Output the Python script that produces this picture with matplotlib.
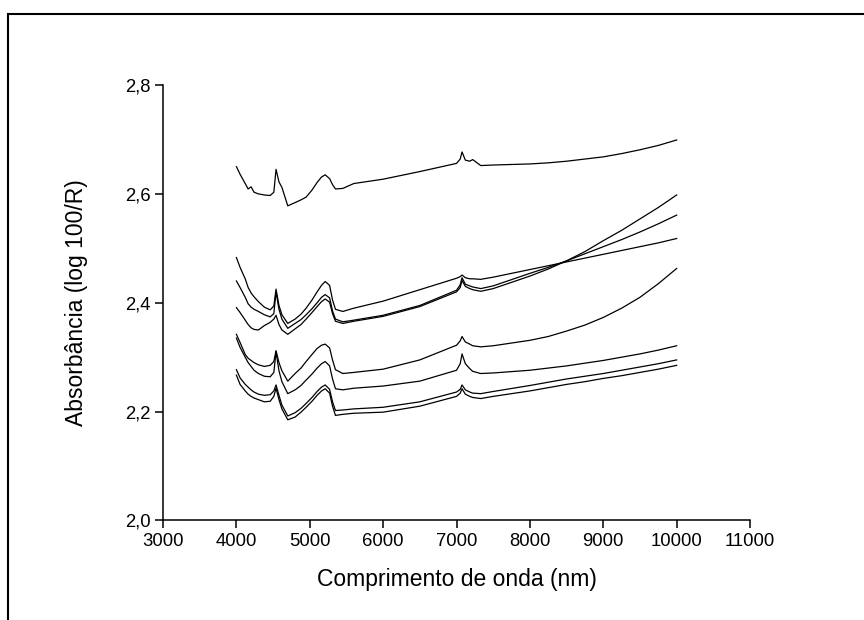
import matplotlib
matplotlib.use("Agg")
import matplotlib.pyplot as plt
from matplotlib.patches import Rectangle
from matplotlib.ticker import FuncFormatter

plt.rcParams["font.family"] = ["Liberation Sans", "DejaVu Sans"]

# comprimento de onda (nm), grade comum a todos os espectros
wavelength = [4000, 4050, 4120, 4160, 4200, 4240, 4300, 4380, 4460, 4510,
              4540, 4580, 4620, 4700, 4800, 4880, 4950, 5030, 5100, 5160,
              5210, 5270, 5310, 5350, 5450, 5600, 6000, 6500, 7000, 7050,
              7075, 7120, 7180, 7220, 7330, 7500, 8000, 8250, 8500, 8750,
              9000, 9250, 9500, 9750, 10000]

# absorbância (log 100/R) de cada amostra
spec_1 = [2.650, 2.636, 2.619, 2.609, 2.613, 2.603, 2.600, 2.598, 2.597, 2.603,
          2.645, 2.622, 2.612, 2.578, 2.584, 2.589, 2.594, 2.607, 2.621, 2.631,
          2.635, 2.628, 2.617, 2.609, 2.610, 2.619, 2.627, 2.641, 2.656, 2.664,
          2.677, 2.662, 2.660, 2.663, 2.652, 2.653, 2.655, 2.657, 2.660, 2.664,
          2.668, 2.674, 2.681, 2.689, 2.699]
spec_2 = [2.483, 2.465, 2.444, 2.428, 2.418, 2.411, 2.402, 2.392, 2.387, 2.394,
          2.425, 2.395, 2.378, 2.362, 2.370, 2.379, 2.390, 2.405, 2.420, 2.432,
          2.439, 2.432, 2.405, 2.388, 2.384, 2.390, 2.403, 2.424, 2.445, 2.448,
          2.451, 2.446, 2.444, 2.444, 2.443, 2.447, 2.461, 2.468, 2.475, 2.482,
          2.489, 2.496, 2.503, 2.510, 2.518]
spec_3 = [2.440, 2.428, 2.410, 2.398, 2.392, 2.388, 2.384, 2.378, 2.374, 2.380,
          2.420, 2.388, 2.370, 2.353, 2.362, 2.369, 2.378, 2.389, 2.400, 2.410,
          2.415, 2.409, 2.385, 2.370, 2.365, 2.368, 2.377, 2.395, 2.423, 2.433,
          2.446, 2.434, 2.431, 2.429, 2.426, 2.431, 2.454, 2.465, 2.477, 2.490,
          2.503, 2.516, 2.530, 2.545, 2.561]
spec_4 = [2.391, 2.382, 2.368, 2.360, 2.354, 2.351, 2.350, 2.358, 2.364, 2.370,
          2.377, 2.360, 2.350, 2.342, 2.352, 2.360, 2.370, 2.382, 2.393, 2.402,
          2.407, 2.401, 2.380, 2.366, 2.362, 2.366, 2.375, 2.393, 2.420, 2.428,
          2.441, 2.430, 2.426, 2.424, 2.421, 2.426, 2.449, 2.462, 2.477, 2.494,
          2.514, 2.533, 2.554, 2.575, 2.598]
spec_5 = [2.342, 2.327, 2.305, 2.298, 2.294, 2.290, 2.286, 2.283, 2.285, 2.292,
          2.312, 2.290, 2.275, 2.256, 2.270, 2.280, 2.292, 2.305, 2.316, 2.322,
          2.324, 2.317, 2.295, 2.277, 2.270, 2.272, 2.278, 2.295, 2.322, 2.330,
          2.338, 2.328, 2.324, 2.321, 2.319, 2.321, 2.331, 2.338, 2.348, 2.359,
          2.373, 2.390, 2.410, 2.435, 2.463]
spec_6 = [2.335, 2.318, 2.300, 2.290, 2.283, 2.276, 2.270, 2.265, 2.264, 2.272,
          2.310, 2.275, 2.255, 2.233, 2.240, 2.248, 2.258, 2.269, 2.280, 2.288,
          2.292, 2.284, 2.260, 2.242, 2.240, 2.243, 2.247, 2.256, 2.276, 2.288,
          2.306, 2.288, 2.279, 2.274, 2.270, 2.271, 2.276, 2.280, 2.284, 2.289,
          2.294, 2.300, 2.306, 2.313, 2.321]
spec_7 = [2.277, 2.262, 2.250, 2.245, 2.240, 2.236, 2.232, 2.230, 2.231, 2.238,
          2.249, 2.230, 2.212, 2.192, 2.198, 2.206, 2.215, 2.226, 2.237, 2.245,
          2.249, 2.241, 2.218, 2.202, 2.203, 2.205, 2.208, 2.218, 2.236, 2.241,
          2.249, 2.240, 2.236, 2.234, 2.233, 2.237, 2.248, 2.254, 2.260, 2.265,
          2.270, 2.276, 2.282, 2.288, 2.295]
spec_8 = [2.267, 2.250, 2.238, 2.232, 2.228, 2.225, 2.222, 2.218, 2.219, 2.228,
          2.243, 2.222, 2.205, 2.185, 2.190, 2.199, 2.208, 2.219, 2.230, 2.238,
          2.242, 2.234, 2.210, 2.193, 2.195, 2.197, 2.199, 2.210, 2.228, 2.234,
          2.242, 2.232, 2.228, 2.226, 2.224, 2.228, 2.238, 2.244, 2.250, 2.255,
          2.261, 2.266, 2.272, 2.278, 2.285]

spectra = [spec_1, spec_2, spec_3, spec_4, spec_5, spec_6, spec_7, spec_8]

x_ticks = list(range(3000, 11001, 1000))
y_ticks = [2.0, 2.2, 2.4, 2.6, 2.8]

fig = plt.figure(figsize=(8.64, 6.2), dpi=100)
ax = fig.add_axes([0.1887, 0.1605, 0.6794, 0.7024])

for s in spectra:
    ax.plot(wavelength, s, color="black", linewidth=0.9)

ax.set_xlim(3000, 11000)
ax.set_ylim(2.0, 2.8)
ax.set_xticks(x_ticks)
ax.set_yticks(y_ticks)
ax.yaxis.set_major_formatter(FuncFormatter(lambda v, p: f"{v:.1f}".replace(".", ",")))

for side in ["top", "right"]:
    ax.spines[side].set_visible(False)
for side in ["left", "bottom"]:
    ax.spines[side].set_linewidth(1.1)

ax.tick_params(direction="out", length=6, width=1.1, labelsize=13.3, pad=3)

ax.set_xlabel("Comprimento de onda (nm)", fontsize=16.5)
ax.set_ylabel("Absorbância (log 100/R)", fontsize=16.5)
ax.xaxis.set_label_coords(0.5, -0.11)
ax.yaxis.set_label_coords(-0.127, 0.5)

# moldura em volta da figura
fig.patches.append(Rectangle((0.0087, -0.1), 1.2, 0.9774 + 0.1,
                             transform=fig.transFigure, fill=False,
                             edgecolor="black", linewidth=1.5))

fig.savefig("out.png", dpi=100)
